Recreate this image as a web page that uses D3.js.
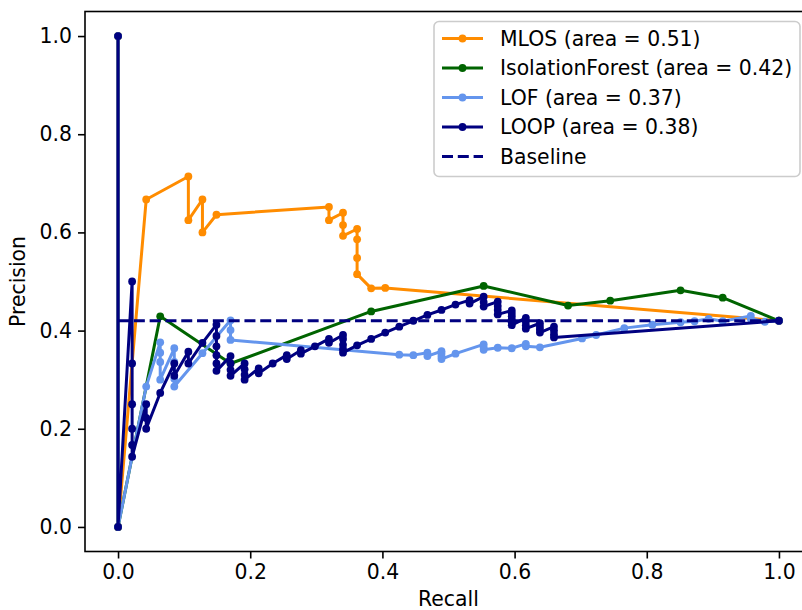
<!DOCTYPE html>
<html><head><meta charset="utf-8">
<script src="https://cdn.jsdelivr.net/npm/d3@7/dist/d3.min.js"></script>
<style>body{margin:0;background:#fff}svg{display:block}text{font-family:"DejaVu Sans",sans-serif}</style>
</head><body><svg id="c" width="802" height="610"></svg>
<script>
// ---- data ----
const mlosRecall = [0, 0, 0.0426, 0.1064, 0.1064, 0.1277, 0.1277, 0.1489, 0.3191, 0.3191, 0.3404, 0.3404, 0.3404, 0.3617, 0.3617, 0.3617, 0.3617, 0.3830, 0.4043, 1.0];
const mlosPrecision = [1.0, 0, 0.667, 0.714, 0.625, 0.667, 0.600, 0.636, 0.652, 0.625, 0.640, 0.615, 0.593, 0.607, 0.586, 0.548, 0.515, 0.486, 0.487, 0.420];

const ifRecall = [0, 0, 0.0638, 0.1702, 0.3830, 0.5532, 0.6809, 0.7447, 0.8511, 0.9149, 1.0];
const ifPrecision = [1.0, 0, 0.429, 0.333, 0.439, 0.491, 0.451, 0.461, 0.482, 0.467, 0.420];

const lofRecall = [0, 0, 0.0426, 0.0638, 0.0638, 0.0638, 0.0638, 0.0851, 0.0851, 0.0851, 0.0851, 0.1277, 0.1702, 0.1702, 0.1702, 0.4255, 0.4468, 0.4681, 0.4681, 0.4894, 0.4894, 0.4894, 0.4894, 0.5106, 0.5532, 0.5532, 0.5532, 0.5745, 0.5957, 0.6170, 0.6170, 0.6383, 0.7021, 0.7234, 0.7660, 0.8085, 0.8511, 0.8723, 0.8936, 0.9149, 0.9574, 0.9574, 0.9787, 1.0];
const lofPrecision = [1.0, 0, 0.286, 0.376, 0.355, 0.336, 0.300, 0.364, 0.336, 0.302, 0.286, 0.354, 0.421, 0.401, 0.381, 0.351, 0.350, 0.355, 0.348, 0.358, 0.353, 0.347, 0.342, 0.353, 0.372, 0.366, 0.361, 0.365, 0.364, 0.373, 0.368, 0.366, 0.384, 0.391, 0.405, 0.412, 0.417, 0.419, 0.424, 0.419, 0.430, 0.424, 0.418, 0.420];

const loopRecall = [0, 0,
  0.0213, 0.0213, 0.0213, 0.0213, 0.0213, 0.0213,
  0.0426, 0.0426, 0.0426, 0.0638, 0.0851, 0.0851, 0.1064, 0.1064, 0.1277,
  0.1489, 0.1489, 0.1489, 0.1489, 0.1489, 0.1489,
  0.1702, 0.1702, 0.1702, 0.1702, 0.1915, 0.1915, 0.1915, 0.1915,
  0.2128, 0.2128, 0.2340, 0.2553, 0.2553, 0.2766, 0.2766, 0.2979, 0.3191, 0.3191,
  0.3404, 0.3404, 0.3404, 0.3404, 0.3404, 0.3617, 0.3830, 0.4043, 0.4255, 0.4468,
  0.4681, 0.4894, 0.5106, 0.5319, 0.5319, 0.5532, 0.5532, 0.5532,
  0.5745, 0.5745, 0.5745, 0.5745,
  0.5957, 0.5957, 0.5957, 0.5957, 0.5957, 0.5957,
  0.6170, 0.6170, 0.6170, 0.6170, 0.6383, 0.6383, 0.6383, 0.6383,
  0.6596, 0.6596, 0.6596, 0.6596, 1.0];
const loopPrecision = [1.0, 0,
  0.500, 0.333, 0.250, 0.200, 0.167, 0.143,
  0.250, 0.222, 0.200, 0.273, 0.333, 0.308, 0.357, 0.333, 0.375,
  0.412, 0.389, 0.368, 0.350, 0.333, 0.318,
  0.348, 0.333, 0.320, 0.308, 0.333, 0.321, 0.310, 0.300,
  0.323, 0.313, 0.333, 0.350, 0.342, 0.360, 0.353, 0.368, 0.383, 0.375,
  0.391, 0.383, 0.371, 0.362, 0.355, 0.370, 0.383, 0.396, 0.408, 0.420,
  0.432, 0.442, 0.453, 0.462, 0.455, 0.469, 0.458, 0.449,
  0.459, 0.450, 0.442, 0.433,
  0.441, 0.435, 0.429, 0.423, 0.417, 0.411,
  0.426, 0.419, 0.411, 0.404, 0.415, 0.408, 0.402, 0.396,
  0.408, 0.400, 0.392, 0.386, 0.420];

const baselineRecall = [0, 1];
const baselinePrecision = [0.42, 0.42];

const seriesNames = ["MLOS (area = 0.51)", "IsolationForest (area = 0.42)", "LOF (area = 0.37)", "LOOP (area = 0.38)", "Baseline"];
const seriesColors = ["#ff8c00", "#006400", "#6495ed", "#000080", "#000080"];
const xTicks = [0.0, 0.2, 0.4, 0.6, 0.8, 1.0];
const yTicks = [0.0, 0.2, 0.4, 0.6, 0.8, 1.0];

// ---- layout ----
const FS = "20.4px";
const svg = d3.select("#c");
const L = 85, R = 812, T = 11.5, B = 551.5;
const x = d3.scaleLinear().domain([-0.05, 1.05]).range([L, R]);
const y = d3.scaleLinear().domain([-0.05, 1.05]).range([B, T]);

const series = [
  {r: mlosRecall, p: mlosPrecision},
  {r: ifRecall, p: ifPrecision},
  {r: lofRecall, p: lofPrecision},
  {r: loopRecall, p: loopPrecision}
];

svg.append("clipPath").attr("id", "pc").append("rect")
  .attr("x", L).attr("y", T).attr("width", R - L).attr("height", B - T);
const plot = svg.append("g").attr("clip-path", "url(#pc)");
const line = d3.line().x(d => x(d[0])).y(d => y(d[1]));

series.forEach((s, i) => {
  const pts = s.r.map((v, j) => [v, s.p[j]]);
  const g = plot.append("g");
  g.append("path").datum(pts).attr("d", line)
    .attr("fill", "none").attr("stroke", seriesColors[i])
    .attr("stroke-width", 3).attr("stroke-linejoin", "round").attr("stroke-linecap", "butt");
  g.selectAll("circle").data(pts).enter().append("circle")
    .attr("cx", d => x(d[0])).attr("cy", d => y(d[1])).attr("r", 3.9)
    .attr("fill", seriesColors[i]);
});

plot.append("path").datum(baselineRecall.map((v, j) => [v, baselinePrecision[j]]))
  .attr("d", line).attr("fill", "none").attr("stroke", seriesColors[4])
  .attr("stroke-width", 3).attr("stroke-dasharray", "11,4.8");

// ---- axes ----
const fmt = d3.format(".1f");
const xAxis = svg.append("g").attr("transform", `translate(0,${B})`)
  .call(d3.axisBottom(x).tickValues(xTicks).tickFormat(fmt).tickSizeOuter(0).tickSize(7).tickPadding(6));
const yAxis = svg.append("g").attr("transform", `translate(${L},0)`)
  .call(d3.axisLeft(y).tickValues(yTicks).tickFormat(fmt).tickSizeOuter(0).tickSize(7).tickPadding(6));
[xAxis, yAxis].forEach(a => {
  a.select(".domain").remove();
  a.selectAll(".tick line").attr("stroke", "#000").attr("stroke-width", 1.6);
  a.selectAll(".tick text").attr("fill", "#000").style("font-size", FS).style("font-family", "DejaVu Sans");
});
svg.append("rect").attr("x", L).attr("y", T).attr("width", R - L).attr("height", B - T)
  .attr("fill", "none").attr("stroke", "#000").attr("stroke-width", 1.6);

svg.append("text").attr("x", (L + R) / 2).attr("y", 606).attr("text-anchor", "middle")
  .style("font-size", FS).text("Recall");
svg.append("text").attr("transform", `translate(25,${(T + B) / 2}) rotate(-90)`).attr("text-anchor", "middle")
  .style("font-size", FS).text("Precision");

// ---- legend ----
const lg = svg.append("g");
lg.append("rect").attr("x", 434).attr("y", 21.5).attr("width", 366).attr("height", 155).attr("rx", 5)
  .attr("fill", "#fff").attr("fill-opacity", 0.8).attr("stroke", "#cccccc").attr("stroke-width", 1.6);
seriesNames.forEach((n, i) => {
  const cy = 38.5 + i * 29.5;
  const h = lg.append("g");
  h.append("line").attr("x1", 442).attr("x2", 483).attr("y1", cy).attr("y2", cy)
    .attr("stroke", seriesColors[i]).attr("stroke-width", 3)
    .attr("stroke-dasharray", i === 4 ? "11,4.8" : null);
  if (i < 4) h.append("circle").attr("cx", 462.5).attr("cy", cy).attr("r", 3.9).attr("fill", seriesColors[i]);
  lg.append("text").attr("x", 500).attr("y", cy).attr("dy", "0.36em")
    .style("font-size", FS).text(n);
});
</script></body></html>
